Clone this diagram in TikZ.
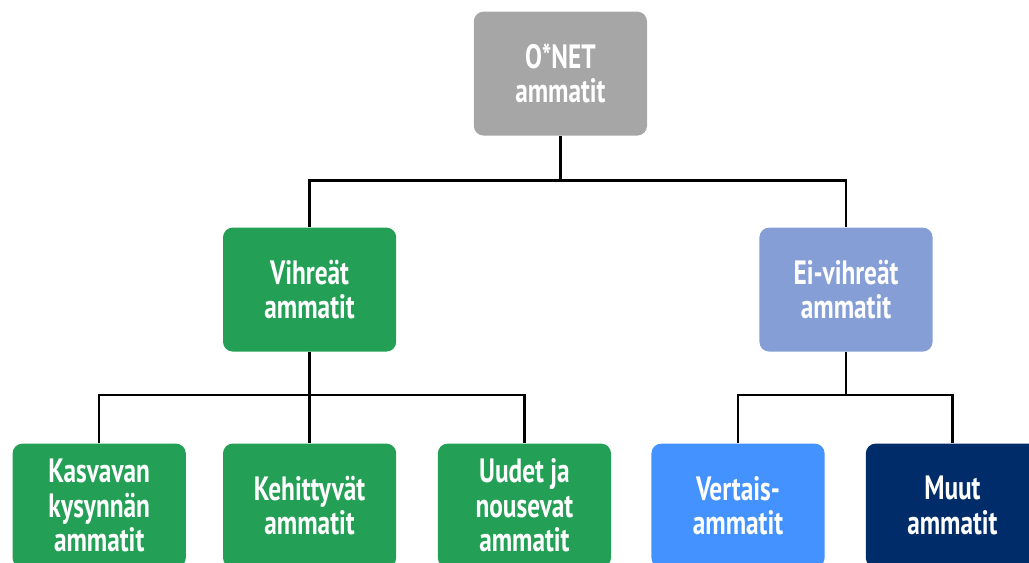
\documentclass[tikz,border=0pt]{standalone}
\usepackage{fontspec}
\setmainfont{PT Sans}[FakeStretch=0.75]
\usetikzlibrary{positioning}
\definecolor{onetgray}{RGB}{166,166,166}
\definecolor{greengreen}{RGB}{35,160,85}
\definecolor{nongreenblue}{RGB}{134,158,214}
\definecolor{peerblue}{RGB}{68,146,255}
\definecolor{othernavy}{RGB}{0,45,105}

\begin{document}
\begin{tikzpicture}[
  % occupation box style
  occbox/.style={
    rounded corners=7pt, minimum width=4.33cm, minimum height=3.1cm,
    inner sep=0pt, align=center, text=white,
    font=\fontsize{24}{24.5}\selectfont\bfseries
  },
  % tree connector
  link/.style={line width=1.8pt, black}
]

% ── Canvas: 1px = 0.025cm ───────────────────────────────────────────────────
\clip (0,0) rectangle (25.725,-14.05);
\useasboundingbox (0,0) rectangle (25.725,-14.05);

% ─── Root ───────────────────────────────────────────────────────────────────
\node[occbox, fill=onetgray] (onet) at (14.01,-1.84) {O*NET\\ammatit};

% ─── Second level ───────────────────────────────────────────────────────────
\node[occbox, fill=greengreen] (green) at (7.74,-7.24) {Vihreät\\ammatit};
\node[occbox, fill=nongreenblue] (nongreen) at (21.15,-7.24) {Ei-vihreät\\ammatit};

% ─── Third level ────────────────────────────────────────────────────────────
\node[occbox, fill=greengreen] (demand) at (2.48,-12.64)
  {Kasvavan\\kysynnän\\ammatit};
\node[occbox, fill=greengreen] (enhanced) at (7.74,-12.64)
  {Kehittyvät\\ammatit};
\node[occbox, fill=greengreen] (emerging) at (13.11,-12.64)
  {Uudet ja\\nousevat\\ammatit};
\node[occbox, fill=peerblue] (peer) at (18.45,-12.64) {Vertais-\\ammatit};
\node[occbox, fill=othernavy] (other) at (23.81,-12.64) {Muut\\ammatit};

% ─── Connectors ─────────────────────────────────────────────────────────────
\draw[link] (onet.south) -- ++(0,-1.12) coordinate (bus_top);
\draw[link] (green.north) |- (bus_top) -| (nongreen.north);

\draw[link] (green.south) -- ++(0,-1.08) coordinate (bus_green);
\draw[link] (demand.north) |- (bus_green) -| (emerging.north);
\draw[link] (bus_green) -- (enhanced.north);

\draw[link] (nongreen.south) -- ++(0,-1.08) coordinate (bus_nongreen);
\draw[link] (peer.north) |- (bus_nongreen) -| (other.north);

\end{tikzpicture}
\end{document}
